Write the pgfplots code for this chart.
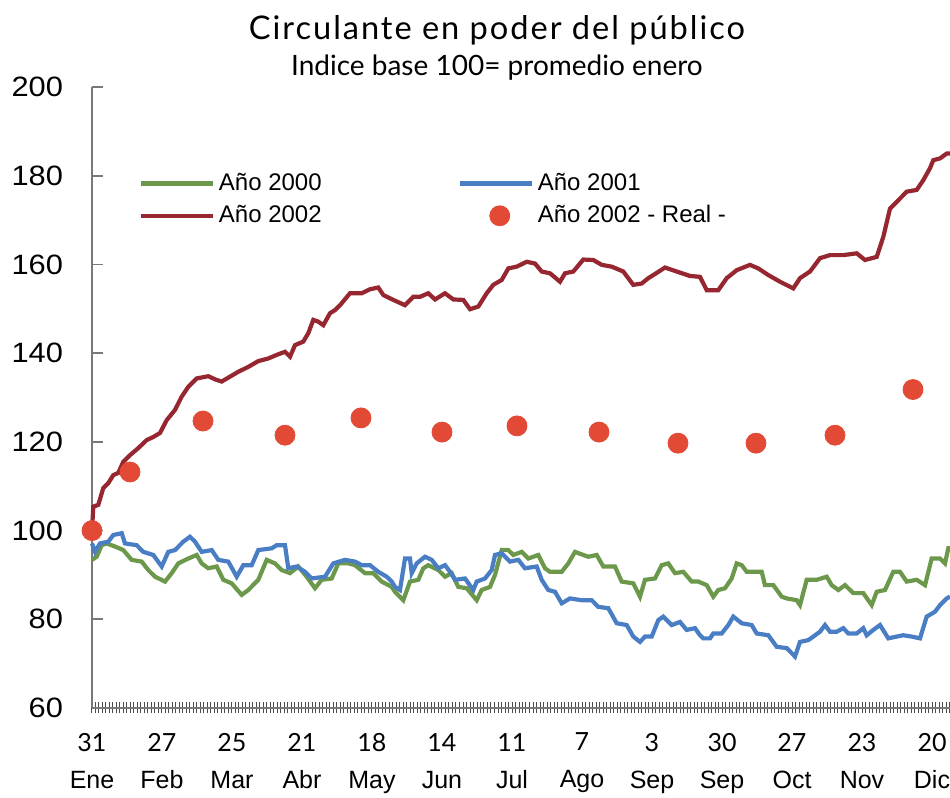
\documentclass[border=0pt]{standalone}
\usepackage{pgfplots}
\pgfplotsset{compat=1.18}
\usepackage{fontspec}
\setmainfont{Liberation Sans}
\newfontfamily\gill{Lato}
\newfontfamily\titlefont[LetterSpace=6]{Lato}
\newfontfamily\wide[FakeStretch=1.1]{Liberation Sans}
\definecolor{cgreen}{RGB}{108,152,76}
\definecolor{cblue}{RGB}{74,126,196}
\definecolor{cred}{RGB}{150,38,48}
\definecolor{cdot}{RGB}{226,74,54}
\definecolor{axgray}{RGB}{120,120,120}
\pgfplotsset{
  longline/.style={legend image code/.code={\draw[##1] (0pt,0pt) -- (36pt,0pt);}},
  dotlegend/.style={legend image code/.code={\path[draw=none,fill=none] (0pt,0pt) -- (36pt,0pt); \draw[##1] plot coordinates {(20pt,0pt)};}},
}

\pgfplotstableread{
x y
0 100.0
1.3 105.4
6.3 105.8
11.3 109.6
16.3 110.7
21.3 112.5
26.3 113.0
31.3 115.5
38 117.0
46.3 118.6
54.7 120.4
61.3 121.1
68 122.0
74.7 124.9
83 127.2
89.7 130.2
96.3 132.4
104.7 134.3
116.3 134.8
123 134.1
129.7 133.6
138 134.7
146.3 135.8
156.3 136.9
166.3 138.2
176.3 138.8
184.7 139.6
193 140.3
198 139.2
203 141.8
211.3 142.6
216.3 144.5
221.3 147.5
226.3 147.1
231.3 146.3
238 149.0
243 149.7
248 150.8
258 153.5
269.7 153.5
278 154.4
286.3 154.8
291.3 153.1
301.3 152.0
313 150.8
321.3 152.7
328 152.7
336.3 153.5
343 152.1
353 153.5
361.3 152.1
371.3 152.0
378 149.9
386.3 150.5
394.7 153.5
401.3 155.4
409.7 156.5
416.3 159.1
424.7 159.5
434.7 160.6
443 160.2
449.7 158.4
458 158.0
468 156.1
473 158.0
481.3 158.4
491.3 161.1
501.3 161.0
509.7 159.9
519.7 159.5
531.3 158.4
541.3 155.4
549.7 155.7
556.3 156.9
561.3 157.6
573 159.3
584.7 158.4
598 157.4
608 157.2
614.7 154.2
626.3 154.2
634.7 156.9
644.7 158.7
658 159.9
666.3 159.1
676.3 157.6
688 156.1
701.3 154.6
708 156.9
718 158.4
728 161.4
738 162.1
751.3 162.1
764.7 162.5
773 161.0
784.7 161.7
791.3 166.2
798 172.6
804.7 174.1
814.7 176.4
824.7 176.8
831.3 179.0
838 181.7
841.3 183.5
848 183.9
854.7 185.0
858 185.0
}\red

\pgfplotstableread{
x y
0 97.1
3 95.2
8 97.1
16.3 97.5
21.3 99.0
29.7 99.4
33 97.1
44.7 96.7
51.3 95.2
61.3 94.5
69.7 91.9
76.3 95.2
83 95.6
91.3 97.5
98 98.6
103 97.5
109.7 95.2
119.7 95.6
126.3 93.4
136.3 93.0
144.7 89.6
151.3 92.2
159.7 92.2
166.3 95.6
179.7 96.0
184.7 96.7
193 96.7
196.3 91.5
204.7 91.9
213 90.7
219.7 89.2
233 89.6
241.3 92.6
253 93.4
263 93.0
269.7 92.2
278 92.2
286.3 90.7
294.7 89.6
299.7 88.5
303 87.3
308 86.6
313 93.7
318 93.7
319.7 90.4
324.7 92.6
333 94.1
339.7 93.4
346.3 91.5
353 92.2
358 90.7
363 88.9
373 89.2
381.3 86.6
384.7 88.5
393 89.2
399.7 91.1
403 94.5
409.7 94.9
418 93.0
426.3 93.4
433 91.5
444.7 91.9
449.7 88.9
456.3 86.6
463 86.2
469.7 83.6
478 84.7
489.7 84.3
499.7 84.3
506.3 82.8
516.3 82.5
524.7 79.1
534.7 78.7
541.3 76.1
548 74.9
553 76.1
559.7 76.1
566.3 79.8
571.3 80.6
579.7 78.7
588 79.4
594.7 77.6
603 78.0
608 76.4
611.3 75.7
618 75.7
621.3 76.8
629.7 76.8
636.3 78.7
641.3 80.6
649.7 79.1
659.7 78.7
664.7 76.8
676.3 76.4
684.7 73.8
694.7 73.5
703 71.6
708 74.9
716.3 75.3
721.3 76.1
728 77.2
733 78.7
738 77.2
744.7 77.2
751.3 78.0
756.3 76.8
764.7 76.8
771.3 78.0
774.7 76.4
781.3 77.6
788 78.7
796.3 75.7
804.7 76.1
811.3 76.4
819.7 76.1
828 75.7
834.7 80.6
843 81.7
848 83.2
854.7 84.7
858 85.1
}\blue

\pgfplotstableread{
x y
0 93.4
4.7 94.1
9.7 96.7
14.7 97.1
23 96.4
31.3 95.6
39.7 93.4
49.7 93.0
56.3 91.1
63 89.6
73 88.5
79.7 90.4
86.3 92.6
96.3 93.7
104.7 94.5
109.7 92.6
116.3 91.5
124.7 91.9
131.3 88.9
139.7 88.1
149.7 85.5
156.3 86.6
166.3 88.9
174.7 93.4
183 92.6
189.7 91.1
198 90.4
206.3 91.9
214.7 89.6
223 87.0
229.7 88.9
239.7 89.2
246.3 92.6
256.3 92.6
263 92.2
273 90.4
281.3 90.4
289.7 88.5
299.7 87.3
303 86.2
311.3 84.3
318 88.5
326.3 88.9
331.3 91.5
336.3 92.2
346.3 91.1
353 89.6
359.7 90.4
366.3 87.3
374.7 87.0
384.7 84.3
389.7 86.6
398 87.3
403 90.0
409.7 95.6
416.3 95.6
421.3 94.5
429.7 95.2
436.3 93.7
446.3 94.5
453 91.5
458 90.7
469.7 90.7
476.3 92.6
483 95.2
491.3 94.5
496.3 94.1
504.7 94.5
511.3 91.9
523 91.9
529.7 88.5
541.3 88.1
548 85.1
553 88.9
563 89.2
569.7 92.2
576.3 92.6
583 90.4
591.3 90.7
599.7 88.5
606.3 88.5
614.7 87.7
621.3 85.1
626.3 86.6
633 87.0
639.7 89.2
644.7 92.6
649.7 92.2
654.7 90.7
669.7 90.7
673 87.7
681.3 87.7
689.7 85.1
694.7 84.7
704.7 84.3
708 83.2
714.7 88.9
724.7 88.9
734.7 89.6
739.7 87.7
746.3 86.6
753 87.7
761.3 85.9
771.3 85.9
779.7 83.2
784.7 86.2
793 86.6
801.3 90.7
808 90.7
814.7 88.5
824.7 88.9
833 87.7
839.7 93.7
848 93.7
853 92.6
856.3 96.0
858 96.0
}\green

\pgfplotstableread{
x y
0 100.0
38 113.2
111 124.7
193 121.5
269 125.4
350 122.2
425 123.6
507 122.2
586 119.7
664 119.7
743 121.5
821 131.8
}\real

\begin{document}
\begin{tikzpicture}
\begin{axis}[
  name=ax,
  scale only axis,
  width=429pt, height=310.5pt,
  xmin=0, xmax=858, ymin=60, ymax=200,
  clip=false,
  axis x line*=bottom, axis y line*=left,
  axis line style={axgray, line width=1pt},
  ytick={60,80,...,200},
  tick align=inside,
  major tick length=5.5pt,
  minor tick length=5.5pt,
  every major y tick/.append style={axgray, line width=0.8pt},
  xtick={0,70,...,840},
  minor xtick={0,3.5,...,858},
  every major x tick/.append style={yshift=-2.75pt, black!70, line width=0.5pt},
  every minor x tick/.append style={yshift=-2.75pt, black!70, line width=0.5pt},
  xticklabels={{{\gill 31}\\Ene},{{\gill 27}\\Feb},{{\gill 25}\\Mar},{{\gill 21}\\Abr},{{\gill 18}\\May},{{\gill 14}\\Jun},{{\gill 11}\\Jul},{{\gill 7}\\Ago},{{\gill 3}\\Sep},{{\gill 30}\\Sep},{{\gill 27}\\Oct},{{\gill 23}\\Nov},{{\gill 20}\\Dic}},
  xticklabel style={align=center, font=\fontsize{12.5}{18.5}\selectfont, yshift=-9pt},
  yticklabel style={font=\wide\fontsize{14}{16}\selectfont, xshift=-11pt},
  /pgf/number format/assume math mode=true,
  legend columns=2,
  legend cell align=left,
  legend style={at={(axis description cs:0.054,0.868)}, anchor=north west,
    draw=none, fill=none, inner sep=0pt, row sep=2pt,
    font=\fontsize{12}{14}\selectfont,
    /tikz/every even column/.append style={column sep=66pt}},
]
\addplot[cgreen, line width=2.1pt, no marks, longline] table[x=x,y=y] {\green};
\addlegendentry{Año 2000}
\addplot[cblue, line width=2.1pt, no marks, longline] table[x=x,y=y] {\blue};
\addlegendentry{Año 2001}
\addplot[cred, line width=2.1pt, no marks, longline] table[x=x,y=y] {\red};
\addlegendentry{Año 2002}
\addplot[only marks, mark=*, mark size=5pt, cdot, mark options={draw=none, fill=cdot}, dotlegend] table[x=x,y=y] {\real};
\addlegendentry{Año 2002 - Real -}
\node[anchor=base, font=\titlefont\fontsize{16.3}{18}\selectfont] at (axis description cs:0.472,1) [yshift=23.5pt] {Circulante en poder del público};
\node[anchor=base, font=\gill\fontsize{14}{16}\selectfont] at (axis description cs:0.472,1) [yshift=5.5pt] {Indice base 100= promedio enero};
\end{axis}
\pgfresetboundingbox
\path ([shift={(-46pt,-45pt)}]ax.south west) rectangle ([shift={(0pt,43.5pt)}]ax.north east);
\end{tikzpicture}
\end{document}
